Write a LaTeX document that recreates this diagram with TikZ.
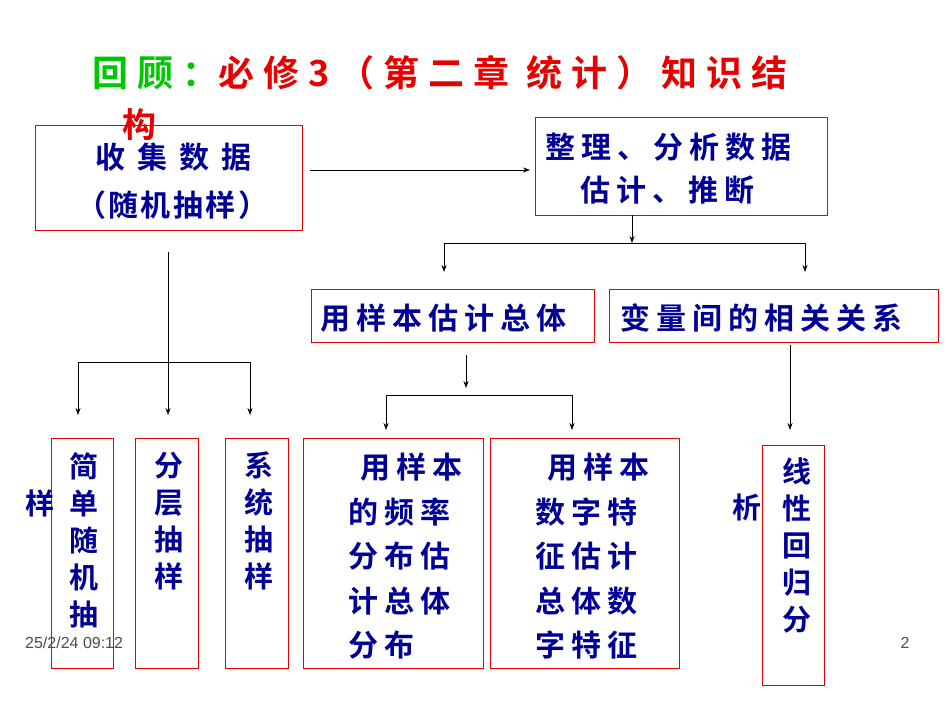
\documentclass[tikz,border=0pt]{standalone}
\usepackage{fontspec}
\newfontfamily\cjk{Noto Sans CJK SC Bold}[LetterSpace=20]
\newfontfamily\cjkw{Noto Sans CJK SC Bold}[LetterSpace=40]
\newfontfamily\cjkm{Noto Sans CJK SC Bold}[LetterSpace=8]
\newfontfamily\cjkn{Noto Sans CJK SC Bold}
\newfontfamily\cjkt{Noto Sans CJK SC Bold}[LetterSpace=25]
\setsansfont{Liberation Sans}
\definecolor{tblue}{RGB}{0,0,150}
\definecolor{tred}{RGB}{230,0,0}
\definecolor{tgreen}{RGB}{0,200,0}
\tikzset{
  box/.style={draw=tred,line width=0.8pt},
  txt/.style={text=tblue,font=\cjk\fontsize{30}{30}\selectfont,inner sep=0,anchor=west},
  one/.style={text=tblue,font=\cjkn\fontsize{29}{30}\selectfont,inner sep=0},
  vtxt/.style={text=tblue,font=\cjkn\fontsize{29}{37}\selectfont,align=center,inner sep=0,anchor=north},
  conn/.style={line width=0.6pt},
  arr/.style={conn,-{Stealth[length=7pt,width=5pt]}}
}
\usetikzlibrary{arrows.meta}
\begin{document}
\begin{tikzpicture}[x=1pt,y=-1pt]
\useasboundingbox (0,0) rectangle (950,713);
% title
\node[anchor=west,inner sep=0,font=\cjkt\fontsize{36}{36}\selectfont] (title) at (92,73) {\textcolor{tgreen}{回顾：}\textcolor{tred}{必修3（第二章 统计）知识结}};
\node[anchor=west,inner sep=0,font=\cjkt\fontsize{34}{36}\selectfont,text=tred] (title2) at (122,125) {构};
% top boxes
\draw[box] (35,125) rectangle (302,230);
\node[txt,font=\cjkw\fontsize{30}{30}\selectfont] (b1a) at (95,157) {收集数据};
\node[txt,font=\cjkm\fontsize{30}{30}\selectfont] (b1b) at (76,205) {（随机抽样）};
\coordinate (b1) at (168,252);
\draw[box] (535,117) rectangle (827,215);
\node[txt] (b2a) at (545,147) {整理、分析数据};
\node[txt] (b2b) at (580,190) {估计、推断};
\coordinate (a1) at (310,170); \coordinate (a2) at (530,170);
\draw[arr] (a1) -- (a2);
\coordinate (b2) at (632,215); \coordinate (b2d) at (632,243);
\draw[arr] (b2) -- (b2d);
\coordinate (hl) at (444,243); \coordinate (hr) at (805,243);
\coordinate (hlb) at (444,272); \coordinate (hrb) at (805,272);
\draw[conn] (hl) -- (hr);
\draw[arr] (hl) -- (hlb);
\draw[arr] (hr) -- (hrb);
% mid boxes
\draw[box] (311,289) rectangle (594,342);
\node[txt] (b3) at (320,318) {用样本估计总体};
\draw[box] (609,289) rectangle (938,342);
\node[txt] (b4) at (620,318) {变量间的相关关系};
% left branch
\coordinate (l0) at (168,362);
\draw[conn] (b1) -- (l0);
\coordinate (l1) at (78,362); \coordinate (l3) at (250,362);
\draw[conn] (l1) -- (l3);
\coordinate (l1b) at (78,415); \coordinate (l2b) at (168,415); \coordinate (l3b) at (250,415);
\draw[arr] (l1) -- (l1b); \draw[arr] (l0) -- (l2b); \draw[arr] (l3) -- (l3b);
\draw[box] (51,438) rectangle (113,668);
\node[vtxt] (s1) at (84,452) {简\\单\\随\\机\\抽};
\node[one] (s1x) at (40,503) {样};
\draw[box] (135,438) rectangle (198,668);
\node[vtxt] (s2) at (169,452) {分\\层\\抽\\样};
\draw[box] (225,438) rectangle (288,668);
\node[vtxt] (s3) at (259,452) {系\\统\\抽\\样};
% middle branch
\coordinate (m0) at (466,355); \coordinate (m0b) at (466,388);
\draw[arr] (m0) -- (m0b);
\coordinate (ml) at (386,395); \coordinate (mr) at (572,395);
\coordinate (mlb) at (386,430); \coordinate (mrb) at (572,430);
\draw[conn] (ml) -- (mr);
\draw[arr] (ml) -- (mlb); \draw[arr] (mr) -- (mrb);
\draw[box] (303,438) rectangle (483,668);
\node[txt] (f1a) at (360,467) {用样本};
\node[txt] (f1b) at (348,512) {的频率};
\node[txt] (f1c) at (348,556) {分布估};
\node[txt] (f1d) at (348,601) {计总体};
\node[txt] (f1e) at (348,645) {分布};
\draw[box] (490,438) rectangle (679,668);
\node[txt] (f2a) at (547,467) {用样本};
\node[txt] (f2b) at (535,512) {数字特};
\node[txt] (f2c) at (535,556) {征估计};
\node[txt] (f2d) at (535,601) {总体数};
\node[txt] (f2e) at (535,645) {字特征};
% right branch
\coordinate (r0) at (790,345); \coordinate (r0b) at (790,430);
\draw[arr] (r0) -- (r0b);
\draw[box] (762,445) rectangle (824,685);
\node[vtxt] (g1) at (797,458) {线\\性\\回\\归\\分};
\node[one] (g1x) at (747,507) {析};
% footer
\node[anchor=west,inner sep=0,font=\sffamily\fontsize{16}{18}\selectfont,text=black!70] (date) at (25,643) {25/2/24 09:12};
\node[inner sep=0,font=\sffamily\fontsize{16}{18}\selectfont,text=black!70] (pg) at (905,643) {2};
\end{tikzpicture}
\end{document}
